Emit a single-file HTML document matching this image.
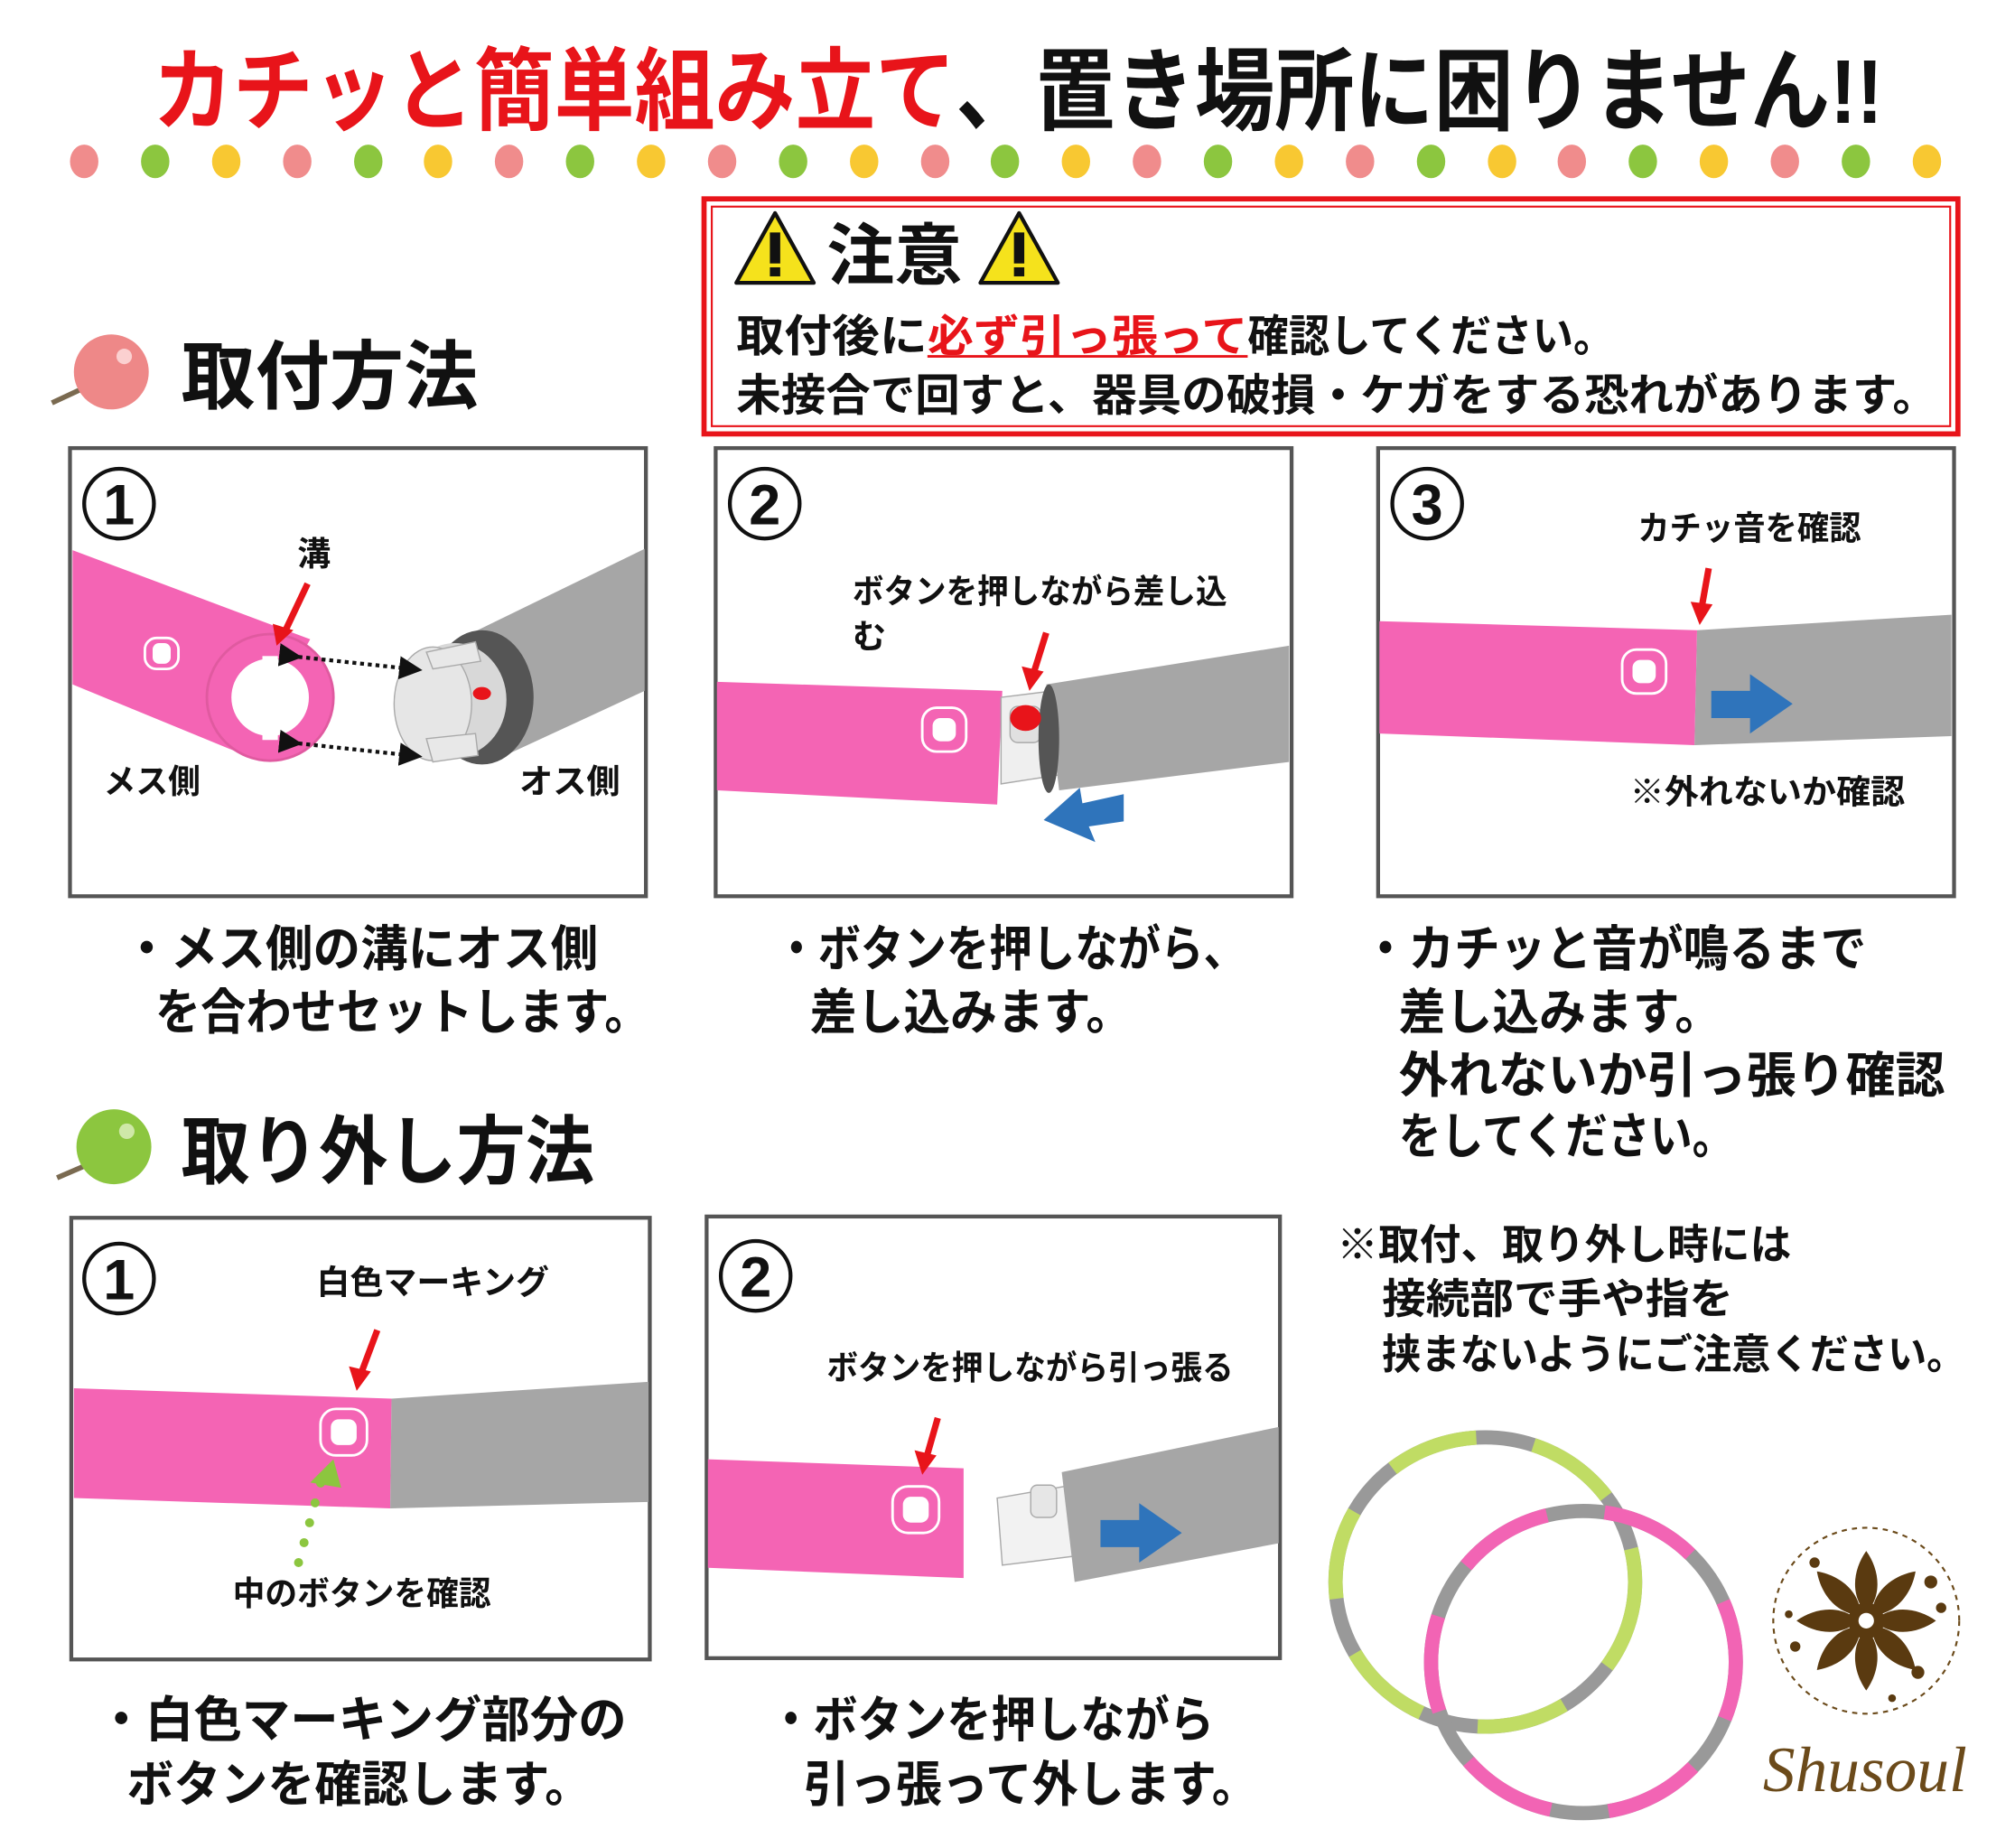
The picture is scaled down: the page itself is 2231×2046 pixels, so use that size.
<!DOCTYPE html>
<html><head><meta charset="utf-8"><style>
html,body{margin:0;padding:0;background:#fff}
svg{display:block}
text{font-family:"Liberation Sans","Noto Sans CJK JP",sans-serif;font-weight:bold}
</style></head><body>
<svg width="2231" height="2046" viewBox="0 0 1560 1431" xmlns="http://www.w3.org/2000/svg">
<defs>
<marker id="ah" markerWidth="6" markerHeight="6" refX="3" refY="3" orient="auto"><path d="M0,0L6,3L0,6z" fill="#111"/></marker>
<path id="pet" d="M0,-6 C-13,-20 -10,-40 0,-54 C10,-40 13,-20 0,-6Z"/>
</defs>
<rect width="1560" height="1431" fill="#fff"/>
<text x="118" y="95" font-size="70" fill="#e8141a" textLength="622" lengthAdjust="spacingAndGlyphs">カチッと簡単組み立て</text>
<text x="740" y="95" font-size="70" fill="#111" textLength="718" lengthAdjust="spacingAndGlyphs">、置き場所に困りません!!</text>
<g>
<ellipse cx="65" cy="125" rx="11" ry="13" fill="#f08c8c"/><ellipse cx="120" cy="125" rx="11" ry="13" fill="#8cc63f"/><ellipse cx="175" cy="125" rx="11" ry="13" fill="#f8c832"/>
<ellipse cx="230" cy="125" rx="11" ry="13" fill="#f08c8c"/><ellipse cx="285" cy="125" rx="11" ry="13" fill="#8cc63f"/><ellipse cx="339" cy="125" rx="11" ry="13" fill="#f8c832"/>
<ellipse cx="394" cy="125" rx="11" ry="13" fill="#f08c8c"/><ellipse cx="449" cy="125" rx="11" ry="13" fill="#8cc63f"/><ellipse cx="504" cy="125" rx="11" ry="13" fill="#f8c832"/>
<ellipse cx="559" cy="125" rx="11" ry="13" fill="#f08c8c"/><ellipse cx="614" cy="125" rx="11" ry="13" fill="#8cc63f"/><ellipse cx="669" cy="125" rx="11" ry="13" fill="#f8c832"/>
<ellipse cx="724" cy="125" rx="11" ry="13" fill="#f08c8c"/><ellipse cx="778" cy="125" rx="11" ry="13" fill="#8cc63f"/><ellipse cx="833" cy="125" rx="11" ry="13" fill="#f8c832"/>
<ellipse cx="888" cy="125" rx="11" ry="13" fill="#f08c8c"/><ellipse cx="943" cy="125" rx="11" ry="13" fill="#8cc63f"/><ellipse cx="998" cy="125" rx="11" ry="13" fill="#f8c832"/>
<ellipse cx="1053" cy="125" rx="11" ry="13" fill="#f08c8c"/><ellipse cx="1108" cy="125" rx="11" ry="13" fill="#8cc63f"/><ellipse cx="1163" cy="125" rx="11" ry="13" fill="#f8c832"/>
<ellipse cx="1217" cy="125" rx="11" ry="13" fill="#f08c8c"/><ellipse cx="1272" cy="125" rx="11" ry="13" fill="#8cc63f"/><ellipse cx="1327" cy="125" rx="11" ry="13" fill="#f8c832"/>
<ellipse cx="1382" cy="125" rx="11" ry="13" fill="#f08c8c"/><ellipse cx="1437" cy="125" rx="11" ry="13" fill="#8cc63f"/><ellipse cx="1492" cy="125" rx="11" ry="13" fill="#f8c832"/>
</g>
<rect x="545" y="154" width="971" height="182" fill="none" stroke="#e8141a" stroke-width="4"/>
<rect x="551" y="160" width="959" height="170" fill="none" stroke="#e8141a" stroke-width="1.5"/>
<g><path d="M600,165L570,219L630,219Z" fill="#f5e21c" stroke="#111" stroke-width="3" stroke-linejoin="round"/><rect x="596" y="180" width="8" height="24" fill="#111"/><rect x="596" y="207" width="8" height="7" fill="#111"/></g>
<g><path d="M789,165L759,219L819,219Z" fill="#f5e21c" stroke="#111" stroke-width="3" stroke-linejoin="round"/><rect x="785" y="180" width="8" height="24" fill="#111"/><rect x="785" y="207" width="8" height="7" fill="#111"/></g>
<text x="640" y="216" font-size="52" fill="#111" textLength="105" lengthAdjust="spacingAndGlyphs">注意</text>
<text x="570" y="272" font-size="34" fill="#111" textLength="148" lengthAdjust="spacingAndGlyphs">取付後に</text>
<text x="718" y="272" font-size="34" fill="#e8141a" textLength="248" lengthAdjust="spacingAndGlyphs">必ず引っ張って</text>
<line x1="718" y1="276" x2="966" y2="276" stroke="#e8141a" stroke-width="2"/>
<text x="966" y="272" font-size="34" fill="#111" textLength="284" lengthAdjust="spacingAndGlyphs">確認してください。</text>
<text x="570" y="318" font-size="34" fill="#111" textLength="930" lengthAdjust="spacingAndGlyphs">未接合で回すと、器具の破損・ケガをする恐れがあります。</text>
<line x1="40" y1="312" x2="70" y2="298" stroke="#7a6a50" stroke-width="4"/>
<circle cx="86" cy="288" r="29" fill="#ee8888"/><circle cx="96" cy="276" r="6" fill="#fbd0d0"/>
<text x="140" y="312" font-size="58" fill="#111" textLength="230" lengthAdjust="spacingAndGlyphs">取付方法</text>
<rect x="54" y="347" width="446" height="347" fill="#fff" stroke="#555" stroke-width="3"/>
<rect x="554" y="347" width="446" height="347" fill="#fff" stroke="#555" stroke-width="3"/>
<rect x="1067" y="347" width="446" height="347" fill="#fff" stroke="#555" stroke-width="3"/>
<circle cx="92" cy="390" r="27" fill="#fff" stroke="#111" stroke-width="3"/><text x="92" y="406" font-size="44" text-anchor="middle" fill="#111">1</text>
<polygon points="56,426 240,495 190,585 56,530" fill="#f464b4"/>
<rect x="112" y="494" width="26" height="24" rx="9" fill="#f464b4" stroke="#fff" stroke-width="2"/><rect x="118" y="498" width="14" height="16" rx="5" fill="#fff"/>
<circle cx="209" cy="540" r="49" fill="#f464b4" stroke="#e05aa0" stroke-width="2"/>
<circle cx="209" cy="540" r="30" fill="#fff"/>
<rect x="203" y="508" width="12" height="8" fill="#fff"/><rect x="203" y="565" width="12" height="8" fill="#fff"/>
<polygon points="499,425 499,535 380,590 345,500" fill="#a6a6a6"/>
<ellipse cx="373" cy="540" rx="40" ry="52" fill="#555"/>
<ellipse cx="352" cy="542" rx="40" ry="44" fill="#d8d8d8"/>
<ellipse cx="335" cy="545" rx="30" ry="44" fill="#e6e6e6" stroke="#aaa"/>
<polygon points="330,505 368,497 372,512 335,518" fill="#e8e8e8" stroke="#aaa"/>
<polygon points="330,572 368,568 370,585 335,590" fill="#e8e8e8" stroke="#aaa"/>
<ellipse cx="373" cy="537" rx="7" ry="5" fill="#e8141a"/>
<line x1="225" y1="508" x2="318" y2="518" stroke="#111" stroke-width="3" stroke-dasharray="3,3" marker-start="url(#ah)" marker-end="url(#ah)"/>
<line x1="225" y1="575" x2="318" y2="585" stroke="#111" stroke-width="3" stroke-dasharray="3,3" marker-start="url(#ah)" marker-end="url(#ah)"/>
<line x1="238" y1="452" x2="220" y2="490" stroke="#e8141a" stroke-width="5"/><path d="M211,483L214,500L227,488Z" fill="#e8141a"/>
<text x="243" y="438" font-size="26" text-anchor="middle" fill="#111">溝</text>
<text x="80" y="614" font-size="26" fill="#111" textLength="75" lengthAdjust="spacingAndGlyphs">メス側</text>
<text x="402" y="614" font-size="26" fill="#111" textLength="78" lengthAdjust="spacingAndGlyphs">オス側</text>
<circle cx="592" cy="390" r="27" fill="#fff" stroke="#111" stroke-width="3"/><text x="592" y="406" font-size="44" text-anchor="middle" fill="#111">2</text>
<text x="660" y="467" font-size="26" fill="#111" textLength="290" lengthAdjust="spacingAndGlyphs">ボタンを押しながら差し込</text>
<text x="660" y="502" font-size="26" fill="#111">む</text>
<polygon points="555,528 776,535 772,623 555,612" fill="#f464b4"/>
<rect x="714" y="548" width="34" height="34" rx="11" fill="#f464b4" stroke="#fff" stroke-width="2"/><rect x="722" y="556" width="18" height="18" rx="6" fill="#fff"/>
<polygon points="775,540 815,535 820,600 775,607" fill="#efefef" stroke="#aaa"/>
<rect x="782" y="547" width="24" height="28" rx="6" fill="#e0e0e0" stroke="#aaa"/>
<polygon points="810,530 998,500 998,590 820,612" fill="#a6a6a6"/>
<ellipse cx="812" cy="572" rx="8" ry="42" fill="#555"/>
<ellipse cx="794" cy="556" rx="12" ry="10" fill="#e8141a"/>
<line x1="810" y1="490" x2="800" y2="522" stroke="#e8141a" stroke-width="5"/><path d="M791,516L797,535L808,520Z" fill="#e8141a"/>
<polygon points="870,615 870,636 843,640 848,652 808,635 836,610 838,622" fill="#2f74bb"/>
<circle cx="1105" cy="390" r="27" fill="#fff" stroke="#111" stroke-width="3"/><text x="1105" y="406" font-size="44" text-anchor="middle" fill="#111">3</text>
<text x="1268" y="418" font-size="26" fill="#111" textLength="173" lengthAdjust="spacingAndGlyphs">カチッ音を確認</text>
<polygon points="1068,481 1314,488 1312,577 1068,568" fill="#f464b4"/>
<polygon points="1314,488 1511,476 1511,570 1312,577" fill="#a6a6a6"/>
<rect x="1256" y="503" width="34" height="34" rx="11" fill="#f464b4" stroke="#fff" stroke-width="2"/><rect x="1264" y="511" width="18" height="18" rx="6" fill="#fff"/>
<line x1="1323" y1="440" x2="1318" y2="468" stroke="#e8141a" stroke-width="5"/><path d="M1309,466L1316,484L1326,468Z" fill="#e8141a"/>
<polygon points="1325,535 1355,535 1355,522 1388,545 1355,568 1355,556 1325,556" fill="#2f74bb"/>
<text x="1262" y="622" font-size="26" fill="#111" textLength="213" lengthAdjust="spacingAndGlyphs">※外れないか確認</text>
<g font-size="38" fill="#111">
<text x="95" y="748" textLength="368" lengthAdjust="spacingAndGlyphs">・メス側の溝にオス側</text>
<text x="120" y="797" textLength="383" lengthAdjust="spacingAndGlyphs">を合わせセットします。</text>
<text x="600" y="748" textLength="365" lengthAdjust="spacingAndGlyphs">・ボタンを押しながら、</text>
<text x="627" y="797" textLength="250" lengthAdjust="spacingAndGlyphs">差し込みます。</text>
<text x="1055" y="748" textLength="390" lengthAdjust="spacingAndGlyphs">・カチッと音が鳴るまで</text>
<text x="1083" y="797" textLength="250" lengthAdjust="spacingAndGlyphs">差し込みます。</text>
<text x="1083" y="846" textLength="423" lengthAdjust="spacingAndGlyphs">外れないか引っ張り確認</text>
<text x="1083" y="893" textLength="260" lengthAdjust="spacingAndGlyphs">をしてください。</text>
</g>
<line x1="44" y1="912" x2="72" y2="900" stroke="#7a6a50" stroke-width="4"/>
<circle cx="88" cy="888" r="29" fill="#8cc63f"/><circle cx="98" cy="876" r="6" fill="#cfe8a8"/>
<text x="140" y="912" font-size="58" fill="#111" textLength="320" lengthAdjust="spacingAndGlyphs">取り外し方法</text>
<rect x="55" y="943" width="448" height="342" fill="#fff" stroke="#555" stroke-width="3"/>
<rect x="547" y="942" width="444" height="342" fill="#fff" stroke="#555" stroke-width="3"/>
<circle cx="92" cy="990" r="27" fill="#fff" stroke="#111" stroke-width="3"/><text x="92" y="1006" font-size="44" text-anchor="middle" fill="#111">1</text>
<text x="245" y="1002" font-size="26" fill="#111" textLength="180" lengthAdjust="spacingAndGlyphs">白色マーキング</text>
<polygon points="57,1075 303,1083 302,1168 57,1160" fill="#f464b4"/>
<polygon points="303,1083 502,1070 502,1163 302,1168" fill="#a6a6a6"/>
<rect x="248" y="1091" width="36" height="36" rx="12" fill="#f464b4" stroke="#fff" stroke-width="2"/><rect x="256" y="1099" width="20" height="20" rx="6" fill="#fff"/>
<line x1="292" y1="1030" x2="280" y2="1062" stroke="#e8141a" stroke-width="5"/><path d="M270,1058L276,1077L287,1062Z" fill="#e8141a"/>
<line x1="231" y1="1210" x2="249" y2="1145" stroke="#8cc63f" stroke-width="7" stroke-linecap="round" stroke-dasharray="0,16"/>
<path d="M240,1148L258,1130L264,1152Z" fill="#8cc63f"/>
<text x="180" y="1243" font-size="26" fill="#111" textLength="200" lengthAdjust="spacingAndGlyphs">中のボタンを確認</text>
<circle cx="585" cy="988" r="27" fill="#fff" stroke="#111" stroke-width="3"/><text x="585" y="1004" font-size="44" text-anchor="middle" fill="#111">2</text>
<text x="640" y="1068" font-size="26" fill="#111" textLength="315" lengthAdjust="spacingAndGlyphs">ボタンを押しながら引っ張る</text>
<polygon points="548,1130 746,1137 746,1222 548,1214" fill="#f464b4"/>
<rect x="691" y="1151" width="36" height="36" rx="12" fill="#f464b4" stroke="#fff" stroke-width="2"/><rect x="699" y="1159" width="20" height="20" rx="6" fill="#fff"/>
<line x1="726" y1="1098" x2="718" y2="1126" stroke="#e8141a" stroke-width="5"/><path d="M708,1123L714,1142L725,1127Z" fill="#e8141a"/>
<polygon points="772,1160 830,1150 832,1205 776,1212" fill="#f2f2f2" stroke="#aaa"/>
<rect x="798" y="1150" width="20" height="25" rx="5" fill="#e6e6e6" stroke="#aaa"/>
<polygon points="822,1140 990,1105 990,1195 832,1225" fill="#a6a6a6"/>
<polygon points="852,1177 882,1177 882,1164 915,1187 882,1210 882,1198 852,1198" fill="#2f74bb"/>
<g font-size="38" fill="#111">
<text x="75" y="1345" textLength="410" lengthAdjust="spacingAndGlyphs">・白色マーキング部分の</text>
<text x="98" y="1395" textLength="360" lengthAdjust="spacingAndGlyphs">ボタンを確認します。</text>
<text x="595" y="1345" textLength="345" lengthAdjust="spacingAndGlyphs">・ボタンを押しながら</text>
<text x="622" y="1395" textLength="352" lengthAdjust="spacingAndGlyphs">引っ張って外します。</text>
</g>
<g font-size="32" fill="#111">
<text x="1035" y="975" textLength="352" lengthAdjust="spacingAndGlyphs">※取付、取り外し時には</text>
<text x="1070" y="1017" textLength="272" lengthAdjust="spacingAndGlyphs">接続部で手や指を</text>
<text x="1070" y="1060" textLength="452" lengthAdjust="spacingAndGlyphs">挟まないようにご注意ください。</text>
</g>
<ellipse cx="1150" cy="1225" rx="116" ry="112" fill="none" stroke="#999" stroke-width="11"/>
<ellipse cx="1150" cy="1225" rx="116" ry="112" fill="none" stroke="#c0dc64" stroke-width="11" stroke-dasharray="70,45"/>
<ellipse cx="1226" cy="1287" rx="118" ry="117" fill="none" stroke="#999" stroke-width="11"/>
<ellipse cx="1226" cy="1287" rx="118" ry="117" fill="none" stroke="#f264b4" stroke-width="11" stroke-dasharray="75,45" stroke-dashoffset="30"/>
<g transform="translate(1445,1255)">
<circle r="72" fill="none" stroke="#6b4a1a" stroke-width="1.5" stroke-dasharray="4,4"/>
<g fill="#5a3a10">
<use href="#pet" transform="rotate(0)"/><use href="#pet" transform="rotate(45)"/><use href="#pet" transform="rotate(90)"/><use href="#pet" transform="rotate(135)"/>
<use href="#pet" transform="rotate(180)"/><use href="#pet" transform="rotate(225)"/><use href="#pet" transform="rotate(270)"/><use href="#pet" transform="rotate(315)"/>
<circle r="14"/>
</g>
<circle r="6" fill="#fff"/>
<g fill="#5a3a10"><circle cx="50" cy="-30" r="5"/><circle cx="58" cy="-10" r="4"/><circle cx="-55" cy="20" r="4"/><circle cx="40" cy="40" r="5"/><circle cx="-40" cy="-45" r="4"/><circle cx="-60" cy="-5" r="3"/><circle cx="20" cy="60" r="3"/></g>
</g>
<text x="1365" y="1387" font-style="italic" font-size="50" fill="#6b4a1a" textLength="158" lengthAdjust="spacingAndGlyphs" style="font-family:'Liberation Serif',serif;font-weight:normal">Shusoul</text>
</svg>
</body></html>
